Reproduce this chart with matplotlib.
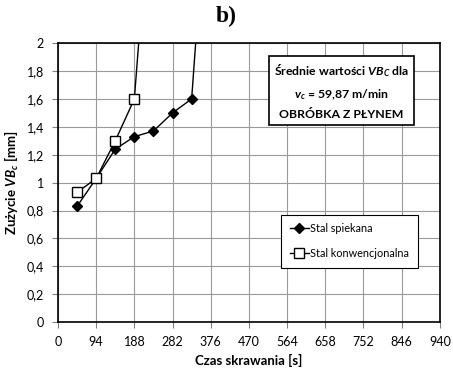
import matplotlib
matplotlib.use("Agg")
from matplotlib import pyplot as plt
import numpy as np

# czas skrawania [s] i zuzycie VBc [mm]
t_spiek = [47, 94, 141, 188, 235, 282, 329, 376]
vb_spiek = [0.83, 1.03, 1.24, 1.33, 1.37, 1.50, 1.60, 3.50]
t_konw = [47, 94, 141, 188, 235]
vb_konw = [0.93, 1.03, 1.30, 1.60, 3.37]

xticks = np.arange(0, 941, 94)
yticks = np.arange(0, 2.01, 0.2)
ylabels = ["0", "0,2", "0,4", "0,6", "0,8", "1", "1,2", "1,4", "1,6", "1,8", "2"]

plt.rcParams['font.family'] = ['Lato', 'DejaVu Sans']
plt.rcParams['mathtext.fontset'] = 'custom'
plt.rcParams['mathtext.it'] = 'Lato:italic:bold'
plt.rcParams['mathtext.rm'] = 'Lato:bold'

fig = plt.figure(figsize=(4.53, 3.72), dpi=100)
ax = fig.add_axes([0.128, 0.134, 0.843, 0.750])

ax.plot(t_spiek, vb_spiek, color='black', lw=1, marker='D', ms=5,
        mfc='black', mec='black', label="Stal spiekana")
ax.plot(t_konw, vb_konw, color='black', lw=1, marker='s', ms=7,
        mfc='white', mec='black', label="Stal konwencjonalna")

ax.set_xlim(0, 940)
ax.set_ylim(0, 2)
ax.set_xticks(xticks)
ax.set_yticks(yticks)
ax.set_yticklabels(ylabels)
ax.tick_params(labelsize=9, length=4, color='gray', pad=6)
ax.grid(True, color='#9a9a9a', lw=0.8)
for s in ax.spines.values():
    s.set_color('black')
    s.set_linewidth(1.2)

ax.set_xlabel("Czas skrawania [s]", fontsize=9.5, fontweight='bold', labelpad=4)
ax.set_ylabel(r"Zużycie $VB_{c}$ [mm]", fontsize=9.5, fontweight='bold', labelpad=4)

fig.text(0.5, 0.955, "b)", fontsize=17, fontweight='bold',
         family='Liberation Serif', ha='center', va='center')

ax.text(0.742, 0.828, "Średnie wartości $VB_{C}$ dla\n$v_{c}$ = 59,87 m/min\nOBRÓBKA Z PŁYNEM",
        transform=ax.transAxes, fontsize=8.8, fontweight='bold', ha='center', va='center',
        linespacing=1.75,
        bbox=dict(boxstyle='square,pad=0.4', fc='white', ec='black', lw=1.2))

leg = ax.legend(loc='center left', bbox_to_anchor=(0.57, 0.29), fontsize=7.8,
                frameon=True, fancybox=False, edgecolor='black', labelspacing=1.3,
                handlelength=1.8, handletextpad=0.1, borderpad=0.8, framealpha=1)
leg.get_frame().set_linewidth(0.8)

plt.savefig('out.png', dpi=100)
